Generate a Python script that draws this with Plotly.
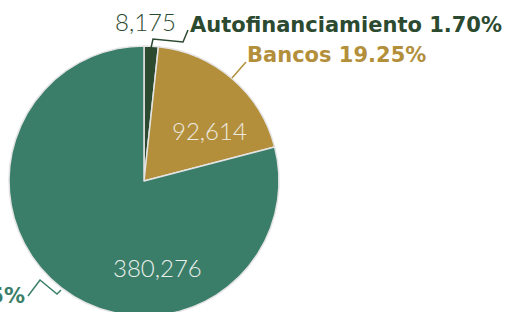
import plotly.graph_objects as go

# ---- data ----
categories = ["Autofinanciamiento", "Bancos", "Otros"]
values = [8175, 92614, 380276]
colors = ["#2b4a30", "#b38f3b", "#3a7e69"]

W, H = 505, 340
total = sum(values)
pcts = [v / total * 100 for v in values]

def px(x):
    return x / W

def py(y):
    return 1 - y / H

fig = go.Figure(go.Pie(
    labels=categories,
    values=values,
    sort=False,
    direction="clockwise",
    rotation=0,
    textinfo="none",
    hoverinfo="label+value+percent",
    marker=dict(colors=colors, line=dict(color="#e4e4e4", width=1.5)),
    domain=dict(x=[px(9), px(279)], y=[py(316), py(46)]),
    showlegend=False,
))

thin = dict(family="Lato", size=24, weight=300)
bold = dict(family="DejaVu Sans", size=21, weight=700)

annotations = []
# value labels
val_pos = [(145, 21, colors[0]), (209, 130, "#eeeae0"), (157, 267, "#e8eee9")]
for v, (x, y, c) in zip(values, val_pos):
    annotations.append(dict(x=px(x), y=py(y), xref="paper", yref="paper",
                            text=f"{v:,}", showarrow=False,
                            font=dict(color=c, **thin),
                            xanchor="center", yanchor="middle"))
# category labels
lab_pos = [(188, 25, "left"), (245, 55, "left"), (27, 296, "right")]
for name, p, (x, y, anc), c in zip(categories, pcts, lab_pos, colors):
    annotations.append(dict(x=px(x), y=py(y), xref="paper", yref="paper",
                            text=f"{name} {p:.2f}%", showarrow=False,
                            font=dict(color=c, **bold),
                            xanchor=anc, yanchor="middle"))

leaders = [
    ([(151, 48), (153, 39), (183, 42), (188, 30)], colors[0]),
    ([(232, 78), (246, 62)], colors[1]),
    ([(28, 296), (40, 280), (57, 294), (61, 290)], colors[2]),
]
shapes = []
for pts, c in leaders:
    path = "M " + " L ".join(f"{px(x)},{py(y)}" for x, y in pts)
    shapes.append(dict(type="path", path=path, xref="paper", yref="paper",
                       line=dict(color=c, width=1.5)))

fig.update_layout(
    width=W, height=H,
    margin=dict(l=0, r=0, t=0, b=0),
    paper_bgcolor="white",
    plot_bgcolor="white",
    annotations=annotations,
    shapes=shapes,
)

fig.write_html("out.html",
               config={"displayModeBar": False},
               post_script="document.body.style.margin='0';document.body.style.overflow='hidden';")
